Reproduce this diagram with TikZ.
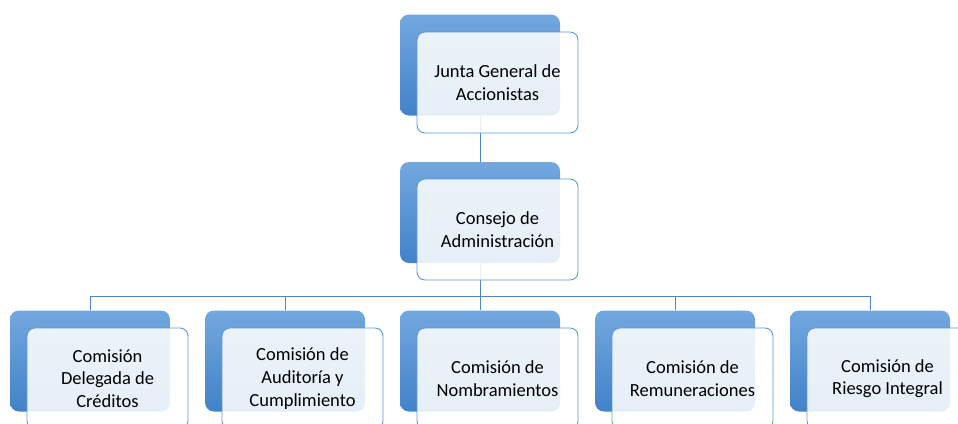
\documentclass[tikz,border=0pt]{standalone}
\usepackage{fontspec}
\setmainfont{Carlito}
\definecolor{backtop}{HTML}{72A8DF}
\definecolor{backbot}{HTML}{4282C8}
\definecolor{frontfill}{HTML}{FFFFFF}
\definecolor{frontline}{HTML}{5E98D6}
\definecolor{linkc}{HTML}{4F86C6}
\begin{document}
\begin{tikzpicture}[x=1pt,y=-1pt,
  backbox/.style={rounded corners=9pt, minimum width=160pt, minimum height=101pt,
    inner sep=0pt, top color=backtop, bottom color=backbot, draw=none},
  frontbox/.style={rounded corners=8pt, minimum width=161pt, minimum height=101pt,
    inner sep=0pt, draw=frontline, line width=0.9pt, fill=frontfill,
    fill opacity=0.87, draw opacity=1, text opacity=1, align=center,
    font=\fontsize{18.5}{22.6}\selectfont},
  link/.style={draw=linkc, line width=0.9pt}]
\useasboundingbox (0,0) rectangle (958,423);
\clip (0,0) rectangle (958,423);
% back boxes
\node[backbox] (b1) at (480,65) {};
\node[backbox] (b2) at (480,212.5) {};
\foreach \i in {1,...,5} {
  \node[backbox] (c\i) at ({90+195*(\i-1)},361) {};
}
% connectors
\coordinate (bus) at (480,296);
\draw[link] (b1.south) -- (b2.north);
\draw[link] (b2.south) -- (bus);
\foreach \i in {1,...,5} {
  \draw[link] (bus) -| (c\i.north);
}
% front boxes
\node[frontbox] (f1) at (497.5,82.5) {Junta General de\\Accionistas};
\node[frontbox] (f2) at (497.5,229.5) {Consejo de\\Administración};
\node[frontbox] (g1) at (107.5,378.5) {Comisión\\Delegada de\\Créditos};
\node[frontbox] (g2) at (302.5,378.5) {Comisión de\\Auditoría y\\Cumplimiento};
\node[frontbox] (g3) at (497.5,378.5) {Comisión de\\Nombramientos};
\node[frontbox] (g4) at (692.5,378.5) {Comisión de\\Remuneraciones};
\node[frontbox] (g5) at (887.5,378.5) {Comisión de\\Riesgo Integral};
\end{tikzpicture}
\end{document}
